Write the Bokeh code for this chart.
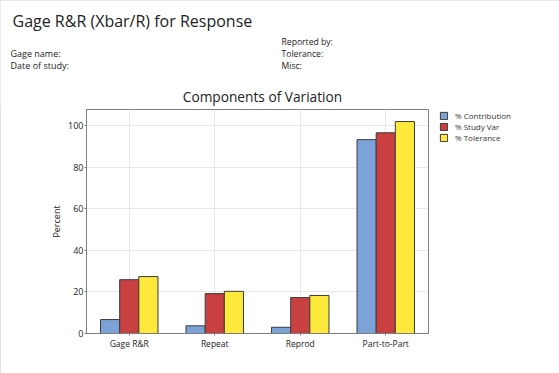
from bokeh.plotting import figure
from bokeh.layouts import column
from bokeh.models import ColumnDataSource, FactorRange, Label, Legend, LegendItem, Range1d
from bokeh.transform import dodge
from bokeh.embed import file_html
from bokeh.resources import INLINE

categories = ["Gage R&R", "Repeat", "Reprod", "Part-to-Part"]
pct_contribution = [6.7, 3.7, 3.0, 93.3]
pct_study_var = [25.9, 19.2, 17.3, 96.6]
pct_tolerance = [27.4, 20.3, 18.3, 102.0]
y_ticks = [0, 20, 40, 60, 80, 100]
series_labels = ["% Contribution", "% Study Var", "% Tolerance"]

FONT = "Open Sans"
TXT = "#222222"
blue, red, yellow = "#7ba3d7", "#c8403f", "#fde83c"
W = 559
HEAD_H = 108

# ---------- header (texts) ----------
head = figure(width=W, height=HEAD_H, x_range=Range1d(0, W), y_range=Range1d(HEAD_H, 0),
              output_backend="svg", toolbar_location=None,
              min_border=0, min_border_left=0, min_border_right=0,
              min_border_top=0, min_border_bottom=0)
head.axis.visible = False
head.grid.visible = False
head.outline_line_color = None
head.frame_align = False

def lab(text, X, Y, size, align="left"):
    head.add_layout(Label(x=X, y=Y, text=text, text_font=FONT, text_font_size=size,
                          text_color=TXT, text_baseline="middle", text_align=align))

lab("Gage R&R (Xbar/R) for Response", 12, 20, "16px")
lab("Gage name:", 10, 53, "9px")
lab("Date of study:", 10, 65, "9px")
lab("Reported by:", 281, 41, "8.6px")
lab("Tolerance:", 281, 53, "8.6px")
lab("Misc:", 281, 65, "8.6px")
lab("Components of Variation", 262, 96, "13.7px", align="center")

# ---------- chart ----------
src = ColumnDataSource(dict(cat=categories, c=pct_contribution, s=pct_study_var, t=pct_tolerance))

p = figure(frame_width=342, frame_height=224, x_range=FactorRange(*categories, range_padding=0),
           y_range=Range1d(0, 107.8), output_backend="svg", toolbar_location=None,
           min_border_left=86, min_border_right=131, min_border_top=1, min_border_bottom=40)
p.frame_align = False

bw = 0.224
cols = ["c", "s", "t"]
fills = [blue, red, yellow]
rs = []
for i, (col, fc) in enumerate(zip(cols, fills)):
    rs.append(p.vbar(x=dodge("cat", (i - 1) * bw, range=p.x_range), top=col, width=bw,
                     source=src, fill_color=fc, line_color="#3c3c3c", line_width=1))

p.outline_line_color = "#7f7f7f"
p.xgrid.grid_line_color = "#e6e6e6"
p.ygrid.grid_line_color = "#e6e6e6"
p.yaxis.ticker = y_ticks
for ax in (p.xaxis[0], p.yaxis[0]):
    ax.axis_line_color = "#7f7f7f"
    ax.major_tick_line_color = "#7f7f7f"
    ax.minor_tick_line_color = None
    ax.major_tick_out = 2
    ax.major_tick_in = 0
    ax.major_label_text_font = FONT
    ax.major_label_text_color = TXT
    ax.major_label_standoff = 1
p.xaxis.major_label_standoff = 2
p.xaxis.major_label_text_font_size = "8.5px"
p.yaxis.major_label_text_font_size = "9px"
p.yaxis.axis_label = "Percent"
p.yaxis.axis_label_text_font = FONT
p.yaxis.axis_label_text_font_size = "9px"
p.yaxis.axis_label_text_font_style = "normal"
p.yaxis.axis_label_text_color = TXT
p.yaxis.axis_label_standoff = 2

legend = Legend(items=[LegendItem(label=l, renderers=[r]) for l, r in zip(series_labels, rs)],
                location=(11, 190), border_line_color=None, background_fill_alpha=0,
                label_text_font=FONT, label_text_font_size="8px", label_text_color="#333333",
                glyph_width=9, glyph_height=9, label_height=9, spacing=0, padding=0,
                margin=0, label_standoff=7)
p.add_layout(legend, "right")

layout = column(head, p, spacing=0)
layout.styles = {"outline": "1px solid #d4d4d4", "outline-offset": "-1px"}

open("out.html", "w").write(file_html(layout, INLINE))
